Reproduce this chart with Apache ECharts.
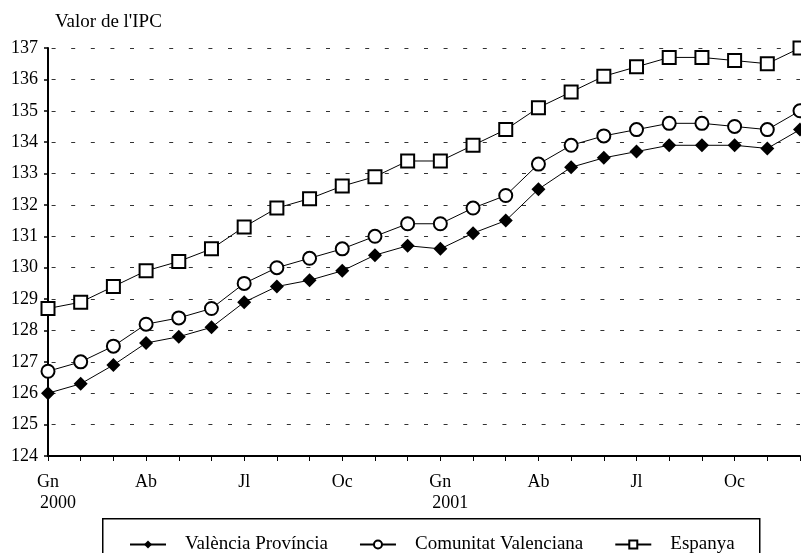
<!DOCTYPE html>
<html>
<head>
<meta charset="utf-8">
<script src="https://cdn.jsdelivr.net/npm/echarts@6/dist/echarts.min.js"></script>
<style>html,body{margin:0;padding:0;background:#fff}#c{width:801px;height:553px}</style>
</head>
<body>
<div id="c"></div>
<script>
const months = ['Gn','Fb','Mç','Ab','Mg','Jn','Jl','Ag','St','Oc','Nv','Ds','Gn','Fb','Mç','Ab','Mg','Jn','Jl','Ag','St','Oc','Nv','Ds'];
const years = ['2000','','','','','','','','','','','','2001','','','','','','','','','','',''];
const valenciaProvincia = [126.0,126.3,126.9,127.6,127.8,128.1,128.9,129.4,129.6,129.9,130.4,130.7,130.6,131.1,131.5,132.5,133.2,133.5,133.7,133.9,133.9,133.9,133.8,134.4];
const comunitatValenciana = [126.7,127.0,127.5,128.2,128.4,128.7,129.5,130.0,130.3,130.6,131.0,131.4,131.4,131.9,132.3,133.3,133.9,134.2,134.4,134.6,134.6,134.5,134.4,135.0];
const espanya = [128.7,128.9,129.4,129.9,130.2,130.6,131.3,131.9,132.2,132.6,132.9,133.4,133.4,133.9,134.4,135.1,135.6,136.1,136.4,136.7,136.7,136.6,136.5,137.0];
const seriesNames = ['València Província','Comunitat Valenciana','Espanya'];
const yAxisTitle = "Valor de l'IPC";

const FONT = 'Liberation Serif';
const cats = months.map((m, i) => i);

const chart = echarts.init(document.getElementById('c'));
chart.setOption({
  animation: false,
  backgroundColor: '#fff',
  textStyle: { fontFamily: FONT, color: '#000' },
  title: {
    text: yAxisTitle, left: 55, top: 13, padding: 0,
    textStyle: { fontFamily: FONT, fontSize: 19, fontWeight: 'normal', color: '#000' }
  },
  graphic: [{
    type: 'rect', left: 102, top: 518, z: 0,
    shape: { width: 657, height: 60 },
    style: { fill: '#fff', stroke: '#000', lineWidth: 1.5 }
  }],
  legend: {
    left: 129, top: 535, padding: 0, itemWidth: 36, itemHeight: 10, itemGap: 31, z: 10,
    textStyle: { fontFamily: FONT, fontSize: 19, color: '#000', padding: [0, 0, 0, 14] },
    data: seriesNames
  },
  grid: { left: 48, right: 1, top: 48, bottom: 97, containLabel: false },
  xAxis: {
    type: 'category', data: cats, boundaryGap: false,
    axisLine: { lineStyle: { color: '#000', width: 2 } },
    axisTick: { show: true, interval: 0, length: 5, lineStyle: { color: '#000', width: 1 } },
    axisLabel: {
      interval: 2, margin: 16, color: '#000', fontFamily: FONT, fontSize: 18,
      formatter: function (v, i) {
        const idx = Number(v);
        return years[idx] ? '{m|' + months[idx] + '}\n{y|' + years[idx] + '}' : '{m|' + months[idx] + '}';
      },
      rich: {
        m: { fontFamily: FONT, fontSize: 18, lineHeight: 21, color: '#000' },
        y: { fontFamily: FONT, fontSize: 18, lineHeight: 21, color: '#000', padding: [0, 0, 0, 20] }
      }
    },
    splitLine: { show: false }
  },
  yAxis: {
    type: 'value', min: 124, max: 137, interval: 1,
    axisLine: { show: true, lineStyle: { color: '#000', width: 2 } },
    axisTick: { show: true, length: 4, lineStyle: { color: '#000', width: 1.5 } },
    axisLabel: { color: '#000', fontFamily: FONT, fontSize: 18, margin: 10 },
    splitLine: { show: true, lineStyle: { color: '#333', width: 1, type: [4, 15.6], dashOffset: 16 } }
  },
  series: [
    {
      name: seriesNames[0], type: 'line', data: valenciaProvincia, symbol: 'diamond', symbolSize: 14,
      showAllSymbol: true, clip: false,
      itemStyle: { color: '#000' }, lineStyle: { color: '#000', width: 1 }
    },
    {
      name: seriesNames[1], type: 'line', data: comunitatValenciana, symbol: 'emptyCircle', symbolSize: 13,
      showAllSymbol: true, clip: false,
      itemStyle: { color: '#000', borderWidth: 1.5 }, lineStyle: { color: '#000', width: 1 }
    },
    {
      name: seriesNames[2], type: 'line', data: espanya, symbol: 'emptyRect', symbolSize: 13,
      showAllSymbol: true, clip: false,
      itemStyle: { color: '#000', borderWidth: 1.5 }, lineStyle: { color: '#000', width: 1 }
    }
  ]
});
</script>
</body>
</html>
